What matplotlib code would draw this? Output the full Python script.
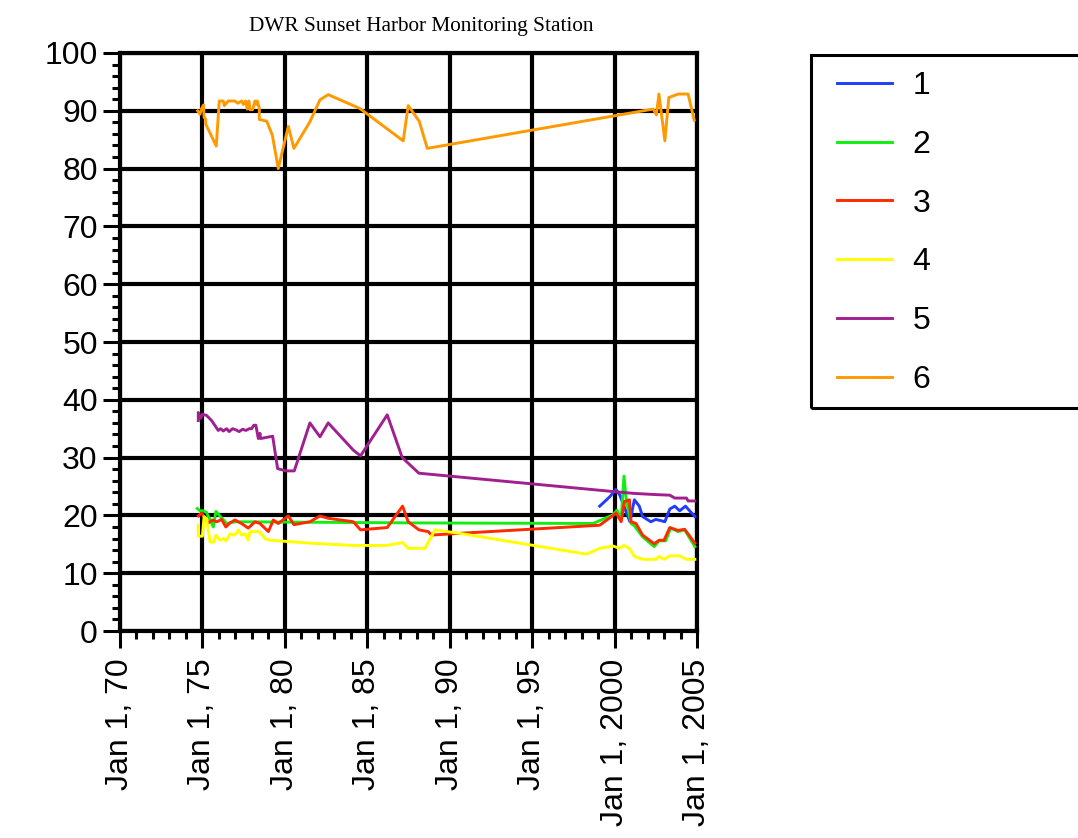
import matplotlib
matplotlib.use("Agg")
import matplotlib.pyplot as plt
from matplotlib.ticker import MultipleLocator, FixedLocator
from matplotlib.patches import Rectangle

# Sunset Harbor series, x in decimal years
x1 = [1999.1, 1999.7, 2000.08, 2000.32, 2000.93, 2001.2, 2001.5, 2001.7, 2002.2, 2002.5,
      2002.8, 2003.05, 2003.35, 2003.65, 2003.95, 2004.3, 2004.87]
y1 = [21.6, 23.2, 24.5, 23.5, 18.9, 22.7, 21.6, 19.8, 18.9, 19.3,
      19.1, 18.9, 21.1, 21.6, 20.8, 21.6, 19.8]

x2 = [1974.69, 1974.85, 1975.05, 1975.25, 1975.42, 1975.66, 1975.82, 1976.06, 1976.47, 1977.0,
      1988.0, 1998.7, 1999.9, 2000.15, 2000.4, 2000.57, 2000.71, 2001.0, 2001.2, 2001.7,
      2002.4, 2002.7, 2003.1, 2003.4, 2003.85, 2004.25, 2004.87]
y2 = [21.2, 20.8, 20.8, 20.5, 19.5, 18.0, 20.7, 19.9, 18.6, 18.9,
      18.7, 18.6, 20.1, 20.9, 19.2, 26.8, 22.7, 18.6, 18.2, 16.3,
      14.6, 15.6, 15.6, 17.8, 17.2, 17.5, 14.6]

x3 = [1974.75, 1974.95, 1975.15, 1975.35, 1975.62, 1975.87, 1976.16, 1976.42, 1976.67, 1976.97,
      1977.37, 1977.78, 1978.19, 1978.49, 1979.0, 1979.3, 1979.6, 1980.21, 1980.55, 1981.52,
      1982.13, 1982.63, 1984.15, 1984.59, 1986.21, 1987.14, 1987.48, 1988.13, 1988.69, 1988.9,
      1990.62, 1999.1, 2000.1, 2000.4, 2000.6, 2000.9, 2001.0, 2001.3, 2001.7, 2002.4,
      2002.7, 2003.0, 2003.35, 2003.85, 2004.25, 2004.87]
y3 = [19.9, 20.4, 19.5, 18.7, 19.2, 18.9, 19.3, 18.0, 18.7, 19.2,
      18.6, 17.8, 18.9, 18.6, 17.2, 19.2, 18.6, 19.9, 18.4, 18.9,
      19.9, 19.5, 18.9, 17.5, 17.9, 21.6, 18.9, 17.5, 17.2, 16.6,
      16.9, 18.3, 20.4, 18.9, 22.4, 22.7, 18.9, 18.6, 16.6, 15.1,
      15.7, 15.7, 17.9, 17.4, 17.6, 15.2]

x4 = [1974.75, 1974.75, 1975.0, 1975.1, 1975.25, 1975.46, 1975.7, 1975.82, 1976.06, 1976.27,
      1976.43, 1976.67, 1976.9, 1977.07, 1977.17, 1977.37, 1977.58, 1977.78, 1977.88, 1978.29,
      1978.45, 1978.79, 1979.1, 1981.52, 1984.15, 1986.17, 1987.14, 1987.48, 1988.5, 1989.1,
      1990.6, 1998.3, 1999.1, 1999.9, 2000.3, 2000.56, 2000.9, 2001.2, 2001.7, 2002.5,
      2002.7, 2003.0, 2003.35, 2003.95, 2004.36, 2004.87]
y4 = [18.3, 16.4, 16.4, 19.8, 19.4, 15.4, 15.4, 16.6, 15.7, 16.0,
      15.6, 16.8, 16.6, 16.9, 17.5, 16.6, 16.8, 15.7, 17.2, 17.2,
      17.2, 16.0, 15.7, 15.2, 14.8, 14.8, 15.3, 14.3, 14.3, 17.5,
      16.9, 13.3, 14.3, 14.7, 14.3, 14.8, 14.3, 12.9, 12.4, 12.4,
      12.9, 12.4, 13.0, 13.0, 12.4, 12.4]

x5 = [1974.75, 1974.75, 1974.89, 1975.01, 1975.25, 1975.56, 1975.96, 1976.1, 1976.26, 1976.47,
      1976.62, 1976.83, 1977.03, 1977.23, 1977.43, 1977.64, 1977.84, 1977.98, 1978.12, 1978.24,
      1978.39, 1978.49, 1978.53, 1979.26, 1979.56, 1980.07, 1980.57, 1981.52, 1982.13, 1982.63,
      1984.15, 1984.59, 1986.21, 1987.12, 1988.13, 2000.02, 2001.2, 2002.5, 2003.35, 2003.65,
      2004.36, 2004.46, 2004.87]
y5 = [36.4, 37.8, 36.8, 37.5, 37.3, 36.4, 34.7, 35.0, 34.6, 35.0,
      34.5, 35.0, 34.8, 34.5, 34.9, 34.7, 35.0, 35.0, 35.6, 35.6,
      33.3, 34.2, 33.3, 33.7, 28.1, 27.7, 27.7, 36.0, 33.6, 36.0,
      31.3, 30.3, 37.4, 30.0, 27.3, 24.1, 23.8, 23.6, 23.5, 23.0,
      23.0, 22.5, 22.5]

x6 = [1974.71, 1974.85, 1974.95, 1975.07, 1975.1, 1975.2, 1975.2, 1975.84, 1976.02, 1976.26,
      1976.33, 1976.57, 1976.97, 1977.14, 1977.38, 1977.48, 1977.62, 1977.72, 1977.82, 1977.88,
      1978.04, 1978.19, 1978.29, 1978.32, 1978.45, 1978.45, 1978.9, 1979.24, 1979.6, 1980.21,
      1980.55, 1981.52, 1982.13, 1982.63, 1984.55, 1987.18, 1987.48, 1988.15, 1988.64, 2002.34,
      2002.54, 2002.69, 2003.05, 2003.29, 2003.86, 2004.46, 2004.83]
y6 = [90.0, 89.4, 90.4, 91.0, 88.9, 88.5, 87.7, 83.9, 91.7, 91.7,
      90.9, 91.7, 91.7, 91.3, 91.7, 91.1, 91.7, 90.3, 91.7, 90.2,
      90.2, 91.7, 91.1, 91.7, 90.5, 88.5, 88.2, 85.8, 80.0, 87.3,
      83.5, 88.1, 91.9, 92.8, 90.4, 84.8, 90.9, 88.2, 83.5, 90.3,
      89.3, 92.9, 84.8, 92.3, 92.9, 92.9, 88.4]

series_names = ["1", "2", "3", "4", "5", "6"]
series_colors = ["#1f3cff", "#11ee11", "#ff2a00", "#ffff00", "#a0208f", "#ff9900"]

xtick_years = [1970, 1975, 1980, 1985, 1990, 1995, 2000, 2005]
xtick_labels = ["Jan 1, 70", "Jan 1, 75", "Jan 1, 80", "Jan 1, 85",
                "Jan 1, 90", "Jan 1, 95", "Jan 1, 2000", "Jan 1, 2005"]
ytick_values = [0, 10, 20, 30, 40, 50, 60, 70, 80, 90, 100]

plt.rcParams["font.family"] = ["Liberation Sans", "DejaVu Sans"]

fig = plt.figure(figsize=(10.78, 8.38), dpi=100)
ax = fig.add_axes([120 / 1078, 1 - 631 / 838, 577 / 1078, 578 / 838])

xs = [x1, x2, x3, x4, x5, x6]
ys = [y1, y2, y3, y4, y5, y6]
for xv, yv, name, col in zip(xs, ys, series_names, series_colors):
    ax.plot(xv, yv, color=col, lw=2.1, label=name, zorder=3)

ax.set_xlim(1970, 2005)
ax.set_ylim(0, 100)
ax.xaxis.set_major_locator(FixedLocator(xtick_years))
ax.set_xticklabels(xtick_labels, rotation=90)
ax.xaxis.set_minor_locator(MultipleLocator(1))
ax.yaxis.set_major_locator(FixedLocator(ytick_values))
ax.yaxis.set_minor_locator(MultipleLocator(2))

ax.grid(True, which="major", color="black", lw=3.0)
for sp in ax.spines.values():
    sp.set_linewidth(3.0)
ax.tick_params(which="major", direction="out", length=12, width=2.2, labelsize=23, pad=4)
ax.tick_params(which="minor", direction="out", length=6, width=2.2)
ax.tick_params(axis="x", which="major", pad=8)

fig.text(421.5 / 1078, 1 - 26 / 838, "DWR Sunset Harbor Monitoring Station",
         ha="center", va="center", fontsize=15.3, family="Liberation Serif")

# legend, frame drawn separately so it runs off the right edge like the original
handles, labels = ax.get_legend_handles_labels()
fig.legend(handles, labels, loc="upper left", bbox_to_anchor=(837 / 1078, 1 - 71 / 838),
           frameon=False, borderpad=0, borderaxespad=0, fontsize=23,
           handlelength=1.72, handletextpad=0.65, labelspacing=0.9)
fig.add_artist(Rectangle((811 / 1078, 1 - 408 / 838), 0.3, 353 / 838,
                         transform=fig.transFigure, fill=False, lw=2.2, ec="black"))

fig.savefig("out.png", dpi=100)
